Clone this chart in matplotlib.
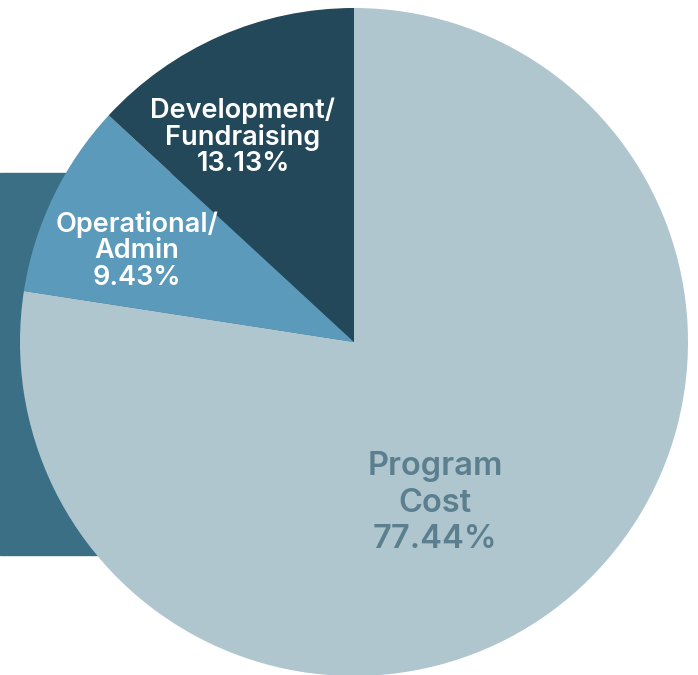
import matplotlib
matplotlib.use('Agg')
import matplotlib.pyplot as plt
from matplotlib.patches import Rectangle

# --- Donnees ---
categories = ['Program\nCost', 'Operational/\nAdmin', 'Development/\nFundraising']
values = [77.44, 9.43, 13.13]
colors = ['#b0c6cf', '#5b9aba', '#234859']
text_colors = ['#5b7f8f', 'white', 'white']

W, H = 698, 675
fig = plt.figure(figsize=(W / 100, H / 100), dpi=100)
ax = fig.add_axes([0, 0, 1, 1])

# bandeau sombre derriere le camembert
ax.add_patch(Rectangle((0, H - 555), 354, 555 - 173, color='#3a6f85', zorder=0))

cx, cy, r = 354, H - 342, 334
wedges, _ = ax.pie(values, colors=colors, startangle=90, counterclock=False,
                   center=(cx, cy), radius=r, frame=True,
                   wedgeprops=dict(linewidth=0, zorder=1))
ax.set_xlim(0, W)
ax.set_ylim(0, H)
ax.axis('off')

# labels (texte + pourcentage)
label_pos = [(435, H - 503), (137, H - 251), (243, H - 137)]
sizes = [23.5, 19.5, 19.5]
weights = [600, 600, 600]
spacing = [1.23, 1.01, 1.01]
for cat, v, (x, y), c, s, w, ls in zip(categories, values, label_pos, text_colors,
                                       sizes, weights, spacing):
    ax.text(x, y, f"{cat}\n{v:.2f}%", ha='center', va='center', color=c,
            fontsize=s, fontweight=w, family=['Inter', 'DejaVu Sans'],
            linespacing=ls, zorder=3)

plt.savefig("out.png", dpi=100)
